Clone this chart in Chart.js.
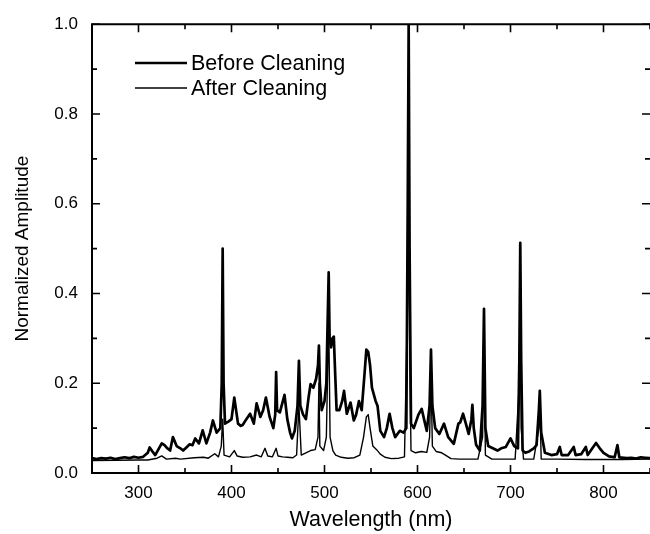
<!DOCTYPE html>
<html>
<head>
<meta charset="utf-8">
<script src="https://cdn.jsdelivr.net/npm/chart.js@4/dist/chart.umd.min.js"></script>
<style>
  html, body { margin: 0; padding: 0; background: #fff; }
  canvas { display: block; }
</style>
</head>
<body>
<canvas id="spec" width="650" height="534"></canvas>
<script>
// Emission spectrum before and after cleaning (normalized amplitude vs wavelength)
const seriesNames = ['Before Cleaning', 'After Cleaning'];

const beforeNm = [250,255,260,265,270,275,280,285,290,295,300,305,310,312,315,318,322,325,328,331,334,337,341,345,348,352,355,358,361,365,369,373,377,380,384,388,389.5,390.5,391.5,393,397,400,403,407,410,412,416,420,424,427,431,434,437,441,445,447,448,449,452,457,460,463,465,468,471,472.5,474,477,480,483,485,488,491,493,494,495,497,500,502,503,504.5,505.5,507,508.5,510,511.5,513,516,519,521,524,528,531.5,534,537,540,543,545,547,549,551,555,557,560,564,567,570,573,576,581,585,588,589.5,590.5,591.5,593,596,601,604.5,607,610,613,614.5,616,619,623.5,628.5,633,639,644,646,649,652,655,658,659,660.5,663,667,670,671.5,673,676,681,686,690,695,700,704,708,709.5,710.5,711.5,713,716,720,725,728,730.5,731.5,733,737,744,750,753,755,762,768,770,776,781,783,788,792,796,800,806,812,815,817,825,830,835,840,845,850];
const beforeAmp = [0.033,0.031,0.033,0.032,0.034,0.031,0.033,0.035,0.033,0.036,0.034,0.036,0.045,0.057,0.048,0.040,0.055,0.066,0.062,0.055,0.050,0.080,0.060,0.055,0.050,0.058,0.064,0.062,0.077,0.066,0.095,0.066,0.090,0.117,0.090,0.100,0.200,0.500,0.200,0.110,0.115,0.120,0.168,0.110,0.105,0.107,0.120,0.132,0.110,0.155,0.125,0.140,0.168,0.125,0.100,0.130,0.225,0.140,0.135,0.174,0.120,0.090,0.077,0.094,0.150,0.250,0.150,0.130,0.120,0.170,0.198,0.190,0.210,0.240,0.284,0.200,0.140,0.160,0.200,0.300,0.447,0.300,0.280,0.300,0.304,0.220,0.140,0.140,0.160,0.183,0.132,0.157,0.117,0.130,0.160,0.140,0.220,0.275,0.270,0.240,0.190,0.160,0.150,0.094,0.080,0.100,0.132,0.100,0.080,0.094,0.090,0.100,0.600,1.000,0.500,0.110,0.100,0.130,0.143,0.120,0.094,0.150,0.275,0.150,0.100,0.087,0.110,0.080,0.065,0.110,0.113,0.132,0.110,0.087,0.120,0.152,0.100,0.063,0.050,0.150,0.366,0.100,0.060,0.055,0.050,0.055,0.058,0.077,0.060,0.055,0.250,0.513,0.250,0.050,0.045,0.048,0.055,0.062,0.140,0.183,0.090,0.045,0.040,0.042,0.058,0.040,0.040,0.058,0.040,0.042,0.058,0.040,0.055,0.067,0.055,0.045,0.037,0.035,0.062,0.035,0.033,0.034,0.032,0.035,0.034,0.033];

const afterNm = [250,300,310,320,325,330,340,345,360,370,375,382,386,389,390.5,392,398,403,406,412,420,427,432,436,439,444,448,450,455,460,466,470,472.5,475,480,485,490,493,494,495,499,502,504.5,506,509,512,518,525,532,538,542,545,547,549,552,556,560,565,572,580,586,589.5,590.5,591.5,593,598,604,610,613,614.5,616,620,626,630,636,645,655,665,670,671.5,673,680,695,705,709.5,710.5,711.5,714,725,730.5,731.5,733,750,780,820,850];
const afterAmp = [0.028,0.029,0.029,0.033,0.038,0.031,0.033,0.031,0.034,0.035,0.033,0.043,0.036,0.060,0.120,0.040,0.036,0.050,0.038,0.035,0.036,0.040,0.036,0.055,0.038,0.036,0.055,0.038,0.036,0.035,0.034,0.040,0.150,0.040,0.045,0.050,0.052,0.080,0.200,0.060,0.050,0.080,0.350,0.080,0.050,0.040,0.035,0.033,0.034,0.040,0.080,0.125,0.130,0.100,0.060,0.052,0.042,0.035,0.032,0.033,0.036,0.400,0.900,0.300,0.050,0.045,0.048,0.046,0.080,0.220,0.060,0.048,0.045,0.040,0.032,0.031,0.031,0.031,0.080,0.330,0.040,0.031,0.031,0.031,0.200,0.480,0.100,0.031,0.031,0.100,0.160,0.031,0.031,0.030,0.030,0.031];

const xTickValues = [300, 400, 500, 600, 700, 800];
const yTickValues = [0.0, 0.2, 0.4, 0.6, 0.8, 1.0];

const FONT = '"Liberation Sans", Arial, Helvetica, sans-serif';

function toPoints(xs, ys) {
  return xs.map((x, i) => ({ x: x, y: ys[i] }));
}

// Frame with inward major/minor ticks on all sides
const frameTicks = {
  id: 'frameTicks',
  afterDatasetsDraw(chart) {
    const { ctx, chartArea: a, scales: { x, y } } = chart;
    ctx.save();
    ctx.strokeStyle = '#000';
    ctx.lineCap = 'butt';
    ctx.lineWidth = 2;
    ctx.beginPath();
    ctx.moveTo(a.left, a.top); ctx.lineTo(a.right + 2, a.top);
    ctx.moveTo(a.left, a.top - 1); ctx.lineTo(a.left, a.bottom + 1);
    ctx.moveTo(a.left - 1, a.bottom); ctx.lineTo(a.right + 2, a.bottom);
    ctx.stroke();
    ctx.lineWidth = 1.6;
    ctx.beginPath();
    for (let v = 250; v <= 850; v += 50) {
      const px = x.getPixelForValue(v);
      const len = (v % 100 === 0) ? 8 : 5;
      ctx.moveTo(px, a.bottom); ctx.lineTo(px, a.bottom - len);
      ctx.moveTo(px, a.top); ctx.lineTo(px, a.top + len);
    }
    for (let k = 0; k <= 10; k++) {
      const v = k / 10;
      const py = y.getPixelForValue(v);
      const len = (k % 2 === 0) ? 8 : 5;
      ctx.moveTo(a.left, py); ctx.lineTo(a.left + len, py);
      ctx.moveTo(a.right, py); ctx.lineTo(a.right - len, py);
    }
    ctx.stroke();
    ctx.restore();
  }
};

// Legend drawn inside the plot area: line sample followed by series name
const innerLegend = {
  id: 'innerLegend',
  afterDraw(chart) {
    const { ctx } = chart;
    const rowY = [63, 88];
    ctx.save();
    chart.data.datasets.forEach((ds, i) => {
      const yy = rowY[i];
      ctx.strokeStyle = ds.borderColor;
      ctx.lineWidth = i === 0 ? 2.6 : 1.5;
      ctx.beginPath();
      ctx.moveTo(135, yy); ctx.lineTo(187, yy);
      ctx.stroke();
      ctx.fillStyle = '#000';
      ctx.font = '21.5px ' + FONT;
      ctx.textBaseline = 'middle';
      ctx.textAlign = 'left';
      ctx.fillText(ds.label, 191, yy + 1);
    });
    ctx.restore();
  }
};

new Chart(document.getElementById('spec'), {
  type: 'line',
  data: {
    datasets: [
      {
        label: seriesNames[0],
        data: toPoints(beforeNm, beforeAmp),
        borderColor: '#000',
        borderWidth: 2.7,
        pointRadius: 0,
        tension: 0,
        borderJoinStyle: 'round'
      },
      {
        label: seriesNames[1],
        data: toPoints(afterNm, afterAmp),
        borderColor: '#000',
        borderWidth: 1.4,
        pointRadius: 0,
        tension: 0,
        borderJoinStyle: 'round'
      }
    ]
  },
  options: {
    responsive: false,
    animation: false,
    devicePixelRatio: 1,
    layout: { padding: { top: 19, right: 0, left: 0, bottom: 0 } },
    plugins: {
      legend: { display: false },
      tooltip: { enabled: false }
    },
    scales: {
      x: {
        type: 'linear',
        min: 250,
        max: 850,
        grid: { display: false, drawTicks: false },
        border: { display: false },
        afterBuildTicks: (s) => { s.ticks = xTickValues.map(v => ({ value: v })); },
        afterFit: (s) => { s.height = 61; },
        ticks: {
          padding: 10,
          color: '#000',
          font: { family: FONT, size: 17 },
          maxRotation: 0,
          callback: (v) => String(v)
        },
        title: {
          display: true,
          text: 'Wavelength (nm)',
          color: '#000',
          font: { family: FONT, size: 21.5 },
          padding: { top: 0, bottom: 1 }
        }
      },
      y: {
        type: 'linear',
        min: 0,
        max: 1,
        grid: { display: false, drawTicks: false },
        border: { display: false },
        afterBuildTicks: (s) => { s.ticks = yTickValues.map(v => ({ value: v })); },
        afterFit: (s) => { s.width = 92; },
        ticks: {
          padding: 14,
          color: '#000',
          font: { family: FONT, size: 17 },
          callback: (v) => Number(v).toFixed(1)
        },
        title: {
          display: true,
          text: 'Normalized Amplitude',
          color: '#000',
          font: { family: FONT, size: 19 },
          padding: { top: 11, bottom: 0 }
        }
      }
    }
  },
  plugins: [frameTicks, innerLegend]
});
</script>
</body>
</html>
